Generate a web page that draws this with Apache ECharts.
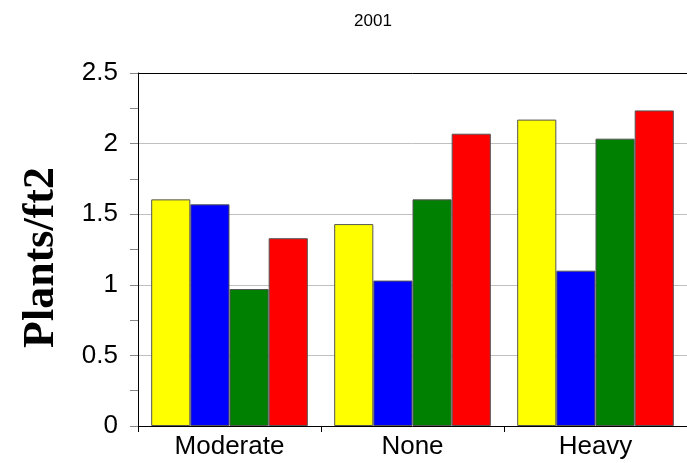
<!DOCTYPE html>
<html>
<head>
<meta charset="utf-8">
<script src="https://cdn.jsdelivr.net/npm/echarts@6/dist/echarts.min.js"></script>
<style>
html,body{margin:0;padding:0;background:#fff;}
#chart{width:687px;height:463px;}
</style>
</head>
<body>
<div id="chart"></div>
<script>
var categories = ['Moderate', 'None', 'Heavy'];
var yellowValues = [1.605, 1.43, 2.17];
var blueValues = [1.57, 1.03, 1.10];
var greenValues = [0.97, 1.605, 2.035];
var redValues = [1.33, 2.07, 2.235];
var yTicks = [0, 0.5, 1, 1.5, 2, 2.5];

var chart = echarts.init(document.getElementById('chart'), null, {renderer: 'canvas'});
function bar(name, data, color) {
  return {
    name: name, type: 'bar', data: data, barGap: '0%', barCategoryGap: '14.4%',
    itemStyle: {color: color, borderColor: '#555555', borderWidth: 1},
    emphasis: {disabled: true}
  };
}
chart.setOption({
  animation: false,
  title: {
    text: '2001', left: 368, top: 8, textAlign: 'center',
    textStyle: {fontFamily: 'Liberation Sans, Arial, sans-serif', fontSize: 17, fontWeight: 'normal', color: '#000'}
  },
  grid: {left: 138, right: -3, top: 73, bottom: 37, show: false},
  xAxis: [{
    type: 'category', data: categories,
    axisLine: {lineStyle: {color: '#000', width: 1}},
    axisTick: {show: true, length: 6, lineStyle: {color: '#000'}},
    axisLabel: {fontFamily: 'Liberation Sans, Arial, sans-serif', fontSize: 26, color: '#000', margin: 8}
  }, {
    type: 'category', data: categories, position: 'top',
    axisLine: {show: true, lineStyle: {color: '#000', width: 1}},
    axisTick: {show: false}, axisLabel: {show: false}
  }],
  yAxis: {
    type: 'value', min: yTicks[0], max: yTicks[yTicks.length - 1], interval: 0.5,
    name: 'Plants/ft2', nameLocation: 'middle', nameGap: 74, nameRotate: 90,
    nameTextStyle: {fontFamily: 'Liberation Serif, Times New Roman, serif', fontWeight: 'bold', fontSize: 44, color: '#000', padding: [0, 16, 0, 0]},
    axisLine: {show: true, lineStyle: {color: '#000', width: 1}},
    axisTick: {show: true, length: 8, lineStyle: {color: '#888'}},
    minorTick: {show: true, splitNumber: 2, length: 8, lineStyle: {color: '#888'}},
    splitLine: {show: true, lineStyle: {color: '#c0c0c0', width: 1}},
    axisLabel: {fontFamily: 'Liberation Sans, Arial, sans-serif', fontSize: 26, color: '#000', margin: 20}
  },
  series: [
    bar('Yellow', yellowValues, '#ffff00'),
    bar('Blue', blueValues, '#0000ff'),
    bar('Green', greenValues, '#008000'),
    bar('Red', redValues, '#ff0000')
  ]
});
</script>
</body>
</html>
